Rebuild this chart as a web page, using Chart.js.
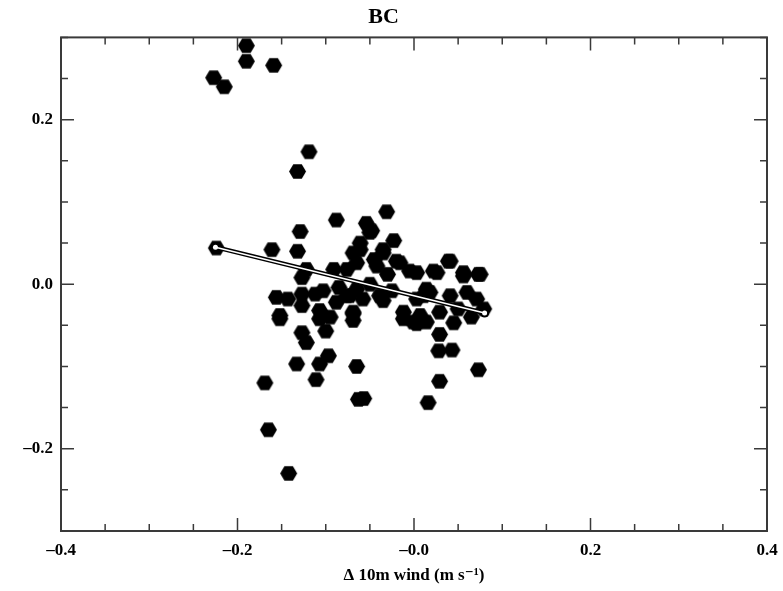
<!DOCTYPE html>
<html>
<head>
<meta charset="utf-8">
<script src="https://cdn.jsdelivr.net/npm/chart.js@4"></script>
<style>
  html, body { margin: 0; padding: 0; background: #fff; }
  #wrap { width: 783px; height: 591px; }
</style>
</head>
<body>
<div id="wrap"><canvas id="bcChart" width="783" height="591"></canvas></div>
<script>
const pointX = [
  -0.190, -0.190, -0.159, -0.227, -0.215, -0.119, -0.132, -0.224, -0.161, -0.129,
  -0.132, -0.088, -0.031, -0.054, -0.048, -0.023, -0.061, -0.069, -0.076, -0.035,
  -0.020, -0.005, 0.003, -0.076, -0.058, -0.035, -0.069, -0.012, 0.003, -0.001,
  0.039, 0.073, 0.022, 0.056, 0.079, 0.050, 0.007, 0.071, 0.018, -0.152,
  -0.107, -0.069, -0.127, -0.122, -0.100, -0.133, -0.097, -0.107, -0.111, -0.065,
  -0.169, -0.063, -0.057, -0.165, -0.142, 0.003, 0.014, 0.045, 0.029, 0.028,
  0.043, 0.073, 0.029, 0.016, -0.012, -0.122, -0.127, -0.156, -0.143, -0.127,
  -0.127, -0.152, -0.103, -0.091, -0.107, -0.088, -0.069, -0.073, -0.050, -0.061,
  -0.035, -0.065, -0.042, -0.016, 0.041, 0.026, 0.056, 0.075, -0.065, -0.039,
  0.011, 0.041, 0.060, 0.029, 0.014, -0.112, -0.085, -0.050, -0.025, -0.045,
  -0.030, -0.095, 0.065
];
const pointY = [
  0.290, 0.271, 0.266, 0.251, 0.240, 0.161, 0.137, 0.044, 0.042, 0.064,
  0.040, 0.078, 0.088, 0.074, 0.065, 0.053, 0.050, 0.038, 0.018, 0.042,
  0.028, 0.016, 0.014, -0.014, -0.018, -0.020, -0.036, -0.034, -0.018, -0.046,
  0.028, 0.012, 0.016, 0.010, -0.030, -0.030, -0.038, -0.018, -0.010, -0.042,
  -0.042, -0.044, -0.059, -0.071, -0.057, -0.097, -0.087, -0.097, -0.116, -0.100,
  -0.120, -0.140, -0.139, -0.177, -0.230, -0.048, -0.046, -0.047, -0.061, -0.081,
  -0.080, -0.104, -0.118, -0.144, -0.042, 0.018, 0.008, -0.016, -0.018, -0.012,
  -0.026, -0.038, -0.008, 0.018, -0.032, -0.022, -0.034, -0.014, 0.063, 0.042,
  0.038, 0.026, 0.022, 0.026, 0.028, 0.014, 0.014, 0.012, -0.006, -0.014,
  -0.014, -0.014, -0.010, -0.034, -0.006, -0.012, -0.004, 0.000, -0.008, 0.030,
  0.012, -0.040, -0.040
];
const fitX = [-0.225, 0.080];
const fitY = [0.045, -0.035];
const xTickLabels = { "-0.4": "\u20130.4", "-0.2": "\u20130.2", "0.0": "\u20130.0", "0.2": "0.2", "0.4": "0.4" };
const yTickLabels = { "-0.2": "\u20130.2", "0.0": "0.0", "0.2": "0.2" };

const SERIF = "'Liberation Serif', 'DejaVu Serif', serif";
const AXIS_COLOR = "#3a3a3a";

function hexagonMarker(radius) {
  const size = radius * 2 + 2;
  const c = document.createElement("canvas");
  c.width = size; c.height = size;
  const g = c.getContext("2d");
  g.fillStyle = "#000";
  g.beginPath();
  for (let i = 0; i < 6; i++) {
    const a = Math.PI / 3 * i;
    const px = size / 2 + radius * Math.cos(a);
    const py = size / 2 + radius * Math.sin(a);
    if (i === 0) g.moveTo(px, py); else g.lineTo(px, py);
  }
  g.closePath();
  g.fill();
  return c;
}

function isMajor(value) {
  const k = value / 0.2;
  return Math.abs(k - Math.round(k)) < 1e-6;
}
function majorKey(value) { return (Math.round(value / 0.2) * 0.2).toFixed(1).replace(/^-0\.0$/, "0.0"); }

// draws the frame and inward ticks on all four sides from the scales' own ticks
const frameTicks = {
  id: "frameTicks",
  afterDraw(chart) {
    const { ctx, chartArea: a, scales } = chart;
    ctx.save();
    ctx.strokeStyle = AXIS_COLOR;
    ctx.lineWidth = 2;
    ctx.strokeRect(a.left, a.top, a.right - a.left, a.bottom - a.top);
    ctx.lineWidth = 1.5;
    ctx.beginPath();
    scales.x.ticks.forEach((t) => {
      const px = scales.x.getPixelForValue(t.value);
      const len = isMajor(t.value) ? 13 : 7;
      ctx.moveTo(px, a.bottom); ctx.lineTo(px, a.bottom - len);
      ctx.moveTo(px, a.top); ctx.lineTo(px, a.top + len);
    });
    scales.y.ticks.forEach((t) => {
      const py = scales.y.getPixelForValue(t.value);
      const len = isMajor(t.value) ? 13 : 7;
      ctx.moveTo(a.left, py); ctx.lineTo(a.left + len, py);
      ctx.moveTo(a.right, py); ctx.lineTo(a.right - len, py);
    });
    ctx.stroke();
    ctx.restore();
  }
};

const scatterData = pointX.map((x, i) => ({ x, y: pointY[i] }));
const fitData = fitX.map((x, i) => ({ x, y: fitY[i] }));

new Chart(document.getElementById("bcChart"), {
  type: "scatter",
  data: {
    datasets: [
      { label: "fit-inner", data: fitData, showLine: true, borderColor: "#fff", borderWidth: 1.5,
        pointRadius: 2.5, pointBackgroundColor: "#fff", pointBorderWidth: 0, order: 0 },
      { label: "fit-outer", data: fitData, showLine: true, borderColor: "#000", borderWidth: 4.5,
        pointRadius: 4.5, pointBackgroundColor: "#000", pointBorderWidth: 0, order: 1 },
      { label: "BC", data: scatterData, pointStyle: hexagonMarker(8.5), pointRadius: 8.5, order: 2 }
    ]
  },
  options: {
    responsive: false,
    animation: false,
    devicePixelRatio: 1,
    layout: { padding: { left: 0, right: 16, top: 0, bottom: 0 } },
    plugins: {
      legend: { display: false },
      tooltip: { enabled: false },
      title: { display: true, text: "BC", color: "#000", font: { family: SERIF, size: 22, weight: "bold" },
        padding: { top: 4, bottom: 7 } }
    },
    scales: {
      x: {
        type: "linear", min: -0.4, max: 0.4,
        grid: { display: false, drawTicks: false },
        border: { display: false },
        ticks: { stepSize: 0.05, autoSkip: false, maxRotation: 0, padding: 9, color: "#000",
          font: { family: SERIF, size: 17, weight: "bold" },
          callback: (v) => isMajor(v) ? xTickLabels[majorKey(v)] : "" },
        title: { display: true, text: "\u0394 10m wind (m s\u207B\u00B9)", color: "#000",
          font: { family: SERIF, size: 17, weight: "bold" }, padding: { top: 2, bottom: 5 } },
        afterFit: (scale) => { scale.height = 60; scale.paddingLeft = 0; scale.paddingRight = 0; }
      },
      y: {
        type: "linear", min: -0.3, max: 0.3,
        grid: { display: false, drawTicks: false },
        border: { display: false },
        ticks: { stepSize: 0.05, autoSkip: false, padding: 8, color: "#000",
          font: { family: SERIF, size: 17, weight: "bold" },
          callback: (v) => isMajor(v) ? yTickLabels[majorKey(v)] : "" },
        afterFit: (scale) => { scale.width = 61; }
      }
    }
  },
  plugins: [frameTicks]
});
</script>
</body>
</html>
